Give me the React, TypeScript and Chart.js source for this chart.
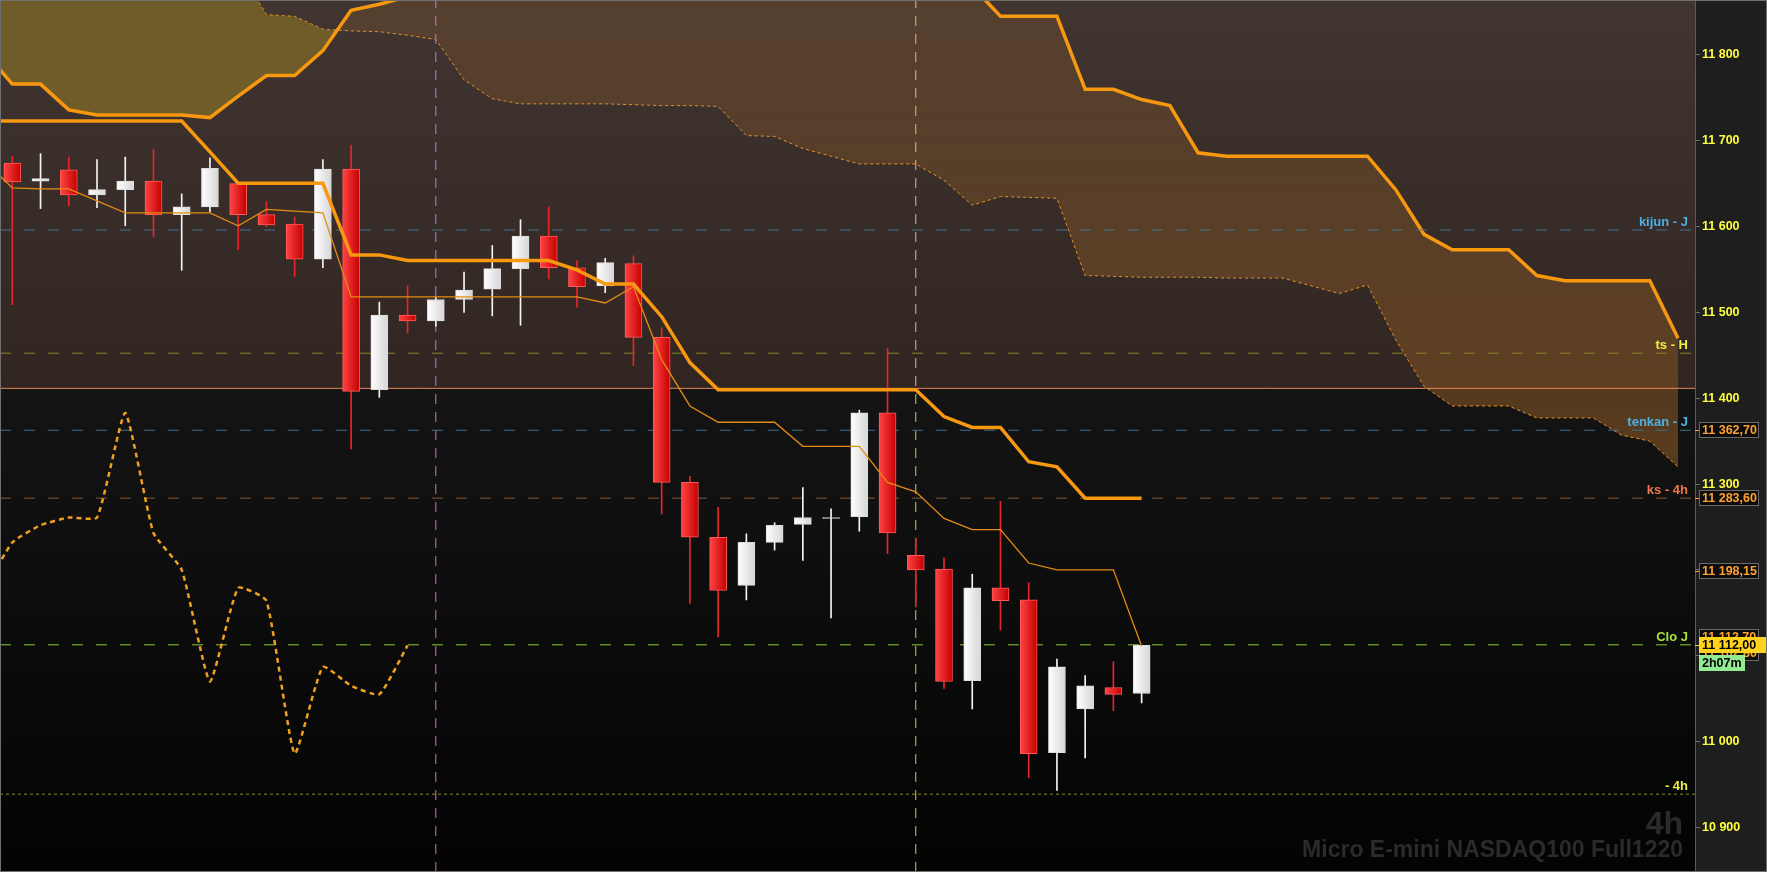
import { useEffect, useRef } from 'react';
import { Chart, registerables } from 'chart.js';

Chart.register(...registerables);

// 4h candles, bar index 0..40
const opens = [11674, 11653, 11666, 11637, 11643, 11653, 11614, 11623, 11650, 11614, 11603, 11562, 11667, 11410, 11497, 11490, 11515, 11527, 11551, 11589, 11552, 11531, 11557, 11471, 11302, 11238, 11182, 11232, 11253, 11260, 11262, 11383, 11217, 11201, 11071, 11179, 11165, 10987, 11038, 11063, 11056];
const highs = [11682, 11685, 11681, 11678, 11681, 11690, 11638, 11680, 11652, 11629, 11611, 11678, 11695, 11512, 11531, 11518, 11547, 11578, 11608, 11623, 11560, 11563, 11566, 11482, 11309, 11273, 11242, 11255, 11296, 11271, 11386, 11458, 11237, 11214, 11195, 11280, 11185, 11096, 11077, 11093, 11112];
const lows = [11509, 11621, 11624, 11622, 11601, 11588, 11549, 11617, 11573, 11600, 11542, 11552, 11341, 11401, 11476, 11484, 11500, 11496, 11485, 11539, 11506, 11523, 11438, 11265, 11161, 11122, 11165, 11223, 11211, 11144, 11245, 11219, 11157, 11062, 11038, 11130, 10958, 10943, 10981, 11036, 11045];
const closes = [11652, 11656, 11637, 11643, 11653, 11614, 11623, 11668, 11614, 11602, 11562, 11667, 11408, 11497, 11490, 11515, 11526, 11551, 11589, 11552, 11530, 11558, 11471, 11302, 11238, 11176, 11232, 11252, 11261, 11261, 11383, 11243, 11200, 11070, 11179, 11164, 10986, 11087, 11065, 11055, 11112];

// ichimoku lines, first value sits at bar -1
const tenkan = [11677, 11645, 11644, 11644, 11630, 11616, 11616, 11616, 11616, 11601, 11620, 11618, 11616, 11518, 11518, 11518, 11518, 11518, 11518, 11518, 11518, 11518, 11511, 11530, 11445, 11391, 11372, 11372, 11372, 11344, 11344, 11344, 11302, 11291, 11260, 11247, 11247, 11208, 11200, 11200, 11200, 11111];
const kijun = [11723, 11723, 11723, 11723, 11723, 11723, 11723, 11723, 11687, 11650.5, 11650.5, 11650.5, 11650.5, 11567, 11567, 11560.5, 11560.5, 11560.5, 11560.5, 11560.5, 11560.5, 11549.5, 11533, 11533, 11495, 11441.5, 11410, 11410, 11410, 11410, 11410, 11410, 11410, 11410, 11378.6, 11366, 11366, 11326, 11320, 11283.6, 11283.6, 11283.6];
const senkouA = [11804, 11766, 11766, 11736, 11730, 11730, 11730, 11730, 11727, 11752, 11776, 11776, 11805, 11852, 11859, 11868, 11878, 11886, 11892, 11895, 11895, 11895, 11895, 11895, 11895, 11895, 11895, 11895, 11895, 11895, 11895, 11895, 11895, 11895, 11895, 11880, 11845, 11845, 11845, 11760, 11760, 11748, 11741, 11686, 11682, 11682, 11682, 11682, 11682, 11682, 11643, 11591, 11573, 11573, 11573, 11543, 11537, 11537, 11537, 11537, 11470];
const senkouB = [11905, 11905, 11905, 11905, 11905, 11905, 11905, 11905, 11905, 11901, 11847, 11845, 11830, 11828, 11827, 11823, 11818, 11771, 11749, 11743, 11743, 11743, 11743, 11742, 11741, 11741, 11740, 11706, 11705, 11691, 11682, 11673, 11673, 11673, 11654, 11625, 11635, 11634, 11633, 11543, 11542, 11541, 11541, 11541, 11540, 11540, 11540, 11531, 11522, 11532, 11468, 11414, 11391, 11391, 11391, 11377, 11377, 11377, 11357, 11350, 11320];
const CHIKOU_SHIFT = 26;

// horizontal levels with their right-side tags
const levelValues = [11596, 11452.5, 11362.7, 11283.6, 11112.7, 10938.7];
const levelLabels = ['kijun - J', 'ts - H', 'tenkan - J', 'ks - 4h', 'Clo J', '- 4h'];
const pivotLevel = 11411.5;
const sessionBreaks = [15, 32];
const axisTags = [11362.7, 11283.6, 11198.15];
const hiddenTags = [11112.7, 11102.8];
const lastPrice = 11112;
const timeLeft = '2h07m';

const X_MIN = -0.436;
const X_MAX = 59.6;
const Y_MIN = 10848;
const Y_MAX = 11864;
const FONT = "'Liberation Sans', Arial, sans-serif";

const levelLine = ['#45708e', '#8c8628', '#3f6f8c', '#8a5836', '#88cc36', '#8f8f30'];
const levelText = ['#4cb0e8', '#f0f040', '#4cb0e8', '#f07848', '#a6e040', '#f0f040'];
const levelDash = [[11, 13], [11, 13], [11, 13], [11, 13], [11, 13], [3, 3]];
const breakColors = ['#d26ed8', '#dcc070'];

const fmt = (v: number, dec: number) => {
  const [a, b] = v.toFixed(dec).split('.');
  const int = a.replace(/\B(?=(\d{3})+(?!\d))/g, ' ');
  return b ? `${int},${b}` : int;
};

const series = (vals: number[], start: number) => vals.map((y, k) => ({ x: k + start, y }));

export default function App() {
  const chartRef = useRef<HTMLCanvasElement | null>(null);

  useEffect(() => {
    if (!chartRef.current) return;
    const ctx = chartRef.current.getContext('2d');
    if (!ctx) return;

    const up = (i: number) => closes[i] >= opens[i];

    // cloud gets denser towards the bottom of the pane
    const cloudUp = ctx.createLinearGradient(0, 0, 0, 872);
    cloudUp.addColorStop(0, 'rgba(118,80,44,0.38)');
    cloudUp.addColorStop(0.5, 'rgba(118,76,34,0.7)');
    cloudUp.addColorStop(1, 'rgba(118,76,34,0.8)');
    const cloudDown = ctx.createLinearGradient(0, 0, 0, 200);
    cloudDown.addColorStop(0, 'rgba(130,108,38,0.7)');
    cloudDown.addColorStop(1, 'rgba(130,108,38,0.76)');

    const bodyFill = (c: any) => {
      const i = c.dataIndex;
      const xs = c.chart.scales?.x;
      if (i === undefined) return '#e41e24';
      const solid = up(i) ? '#f2f2f2' : '#e41e24';
      if (!xs) return solid;
      const px = xs.getPixelForValue(i);
      if (!isFinite(px)) return solid;
      const g = c.chart.ctx.createLinearGradient(px - 8.5, 0, px + 8.5, 0);
      if (up(i)) {
        g.addColorStop(0, '#ffffff');
        g.addColorStop(1, '#d6d6d6');
      } else {
        g.addColorStop(0, '#ff4444');
        g.addColorStop(1, '#c40000');
      }
      return g;
    };

    const bandFill = (c: any) => {
      const { chart } = c;
      const area = chart.chartArea;
      if (!area) return 'rgb(56,45,41)';
      const py = chart.scales.y.getPixelForValue(pivotLevel);
      const g = chart.ctx.createLinearGradient(0, area.top, 0, py);
      g.addColorStop(0, 'rgb(64,53,49)');
      g.addColorStop(1, 'rgb(48,37,33)');
      return g;
    };

    const flat = (y: number) => [{ x: X_MIN, y }, { x: X_MAX, y }];

    const datasets: any[] = [
      {
        type: 'line',
        data: flat(pivotLevel),
        borderWidth: 0,
        fill: 'end',
        backgroundColor: bandFill,
        order: 100,
      },
      {
        type: 'line',
        data: series(senkouA, -1),
        borderColor: '#f7980f',
        borderWidth: 3.5,
        fill: { target: '+1', above: cloudUp, below: cloudDown },
        order: 60,
      },
      {
        type: 'line',
        data: series(senkouB, -1),
        borderColor: 'rgba(238,150,40,0.95)',
        borderWidth: 1,
        borderDash: [3, 3],
        fill: false,
        order: 59,
      },
      {
        type: 'line',
        data: flat(pivotLevel),
        borderColor: '#e8875a',
        borderWidth: 1,
        fill: false,
        order: 50,
      },
      ...levelValues.map((v, k) => ({
        type: 'line',
        data: flat(v),
        borderColor: levelLine[k],
        borderWidth: 1,
        borderDash: levelDash[k],
        fill: false,
        order: 40,
      })),
      ...sessionBreaks.map((b, k) => ({
        type: 'line',
        data: [{ x: b, y: Y_MIN }, { x: b, y: Y_MAX }],
        borderColor: breakColors[k],
        borderWidth: 1,
        borderDash: [10, 8],
        fill: false,
        order: 40,
      })),
      {
        type: 'bar',
        data: opens.map((_, i) => ({ x: i, y: [lows[i], highs[i]] })),
        backgroundColor: opens.map((_, i) => (up(i) ? '#f4f4f4' : '#e8262a')),
        borderWidth: 0,
        barThickness: 1,
        grouped: false,
        order: 30,
      },
      {
        type: 'bar',
        data: opens.map((o, i) => {
          const lo = Math.min(o, closes[i]);
          const hi = Math.max(o, closes[i]);
          return { x: i, y: hi - lo < 1 ? [lo - 0.5, hi + 0.5] : [lo, hi] };
        }),
        backgroundColor: bodyFill,
        borderColor: opens.map((_, i) => (up(i) ? '#dcdcdc' : '#ff5a5a')),
        borderWidth: 1,
        borderSkipped: false,
        barThickness: 17,
        grouped: false,
        order: 29,
      },
      {
        type: 'line',
        data: series(closes.slice(CHIKOU_SHIFT - 1), -1),
        borderColor: '#f0a020',
        borderWidth: 2.5,
        borderDash: [5, 4],
        tension: 0.15,
        fill: false,
        order: 20,
      },
      {
        type: 'line',
        data: series(tenkan, -1),
        borderColor: '#e38c12',
        borderWidth: 1.3,
        fill: false,
        order: 11,
      },
      {
        type: 'line',
        data: series(kijun, -1),
        borderColor: '#f7980f',
        borderWidth: 3.5,
        fill: false,
        order: 10,
      },
    ];

    const decor = {
      id: 'decor',
      beforeDraw(chart: any) {
        const { ctx: c, chartArea: a, width, height } = chart;
        c.save();
        c.fillStyle = '#1e1e1e';
        c.fillRect(0, 0, width, height);
        const g = c.createLinearGradient(0, a.top, 0, a.bottom);
        g.addColorStop(0, '#222222');
        g.addColorStop(1, '#030303');
        c.fillStyle = g;
        c.fillRect(a.left, a.top, a.right - a.left, a.bottom - a.top);
        c.restore();
      },
      beforeDatasetsDraw(chart: any) {
        const { ctx: c, chartArea: a } = chart;
        c.save();
        c.fillStyle = '#2b2b2b';
        c.textAlign = 'right';
        c.textBaseline = 'alphabetic';
        c.font = `bold 32px ${FONT}`;
        c.fillText('4h', a.right - 12, 834);
        c.font = `bold 23px ${FONT}`;
        c.fillText('Micro E-mini NASDAQ100 Full1220', a.right - 12, 857);
        c.restore();
      },
      afterDatasetsDraw(chart: any) {
        const { ctx: c, chartArea: a, scales } = chart;
        c.save();
        c.font = `bold 13px ${FONT}`;
        c.textAlign = 'right';
        c.textBaseline = 'alphabetic';
        levelValues.forEach((v, k) => {
          c.fillStyle = levelText[k];
          c.fillText(levelLabels[k], a.right - 7, scales.y.getPixelForValue(v) - 4);
        });
        c.restore();
      },
      afterDraw(chart: any) {
        const { ctx: c, chartArea: a, scales, width, height } = chart;
        const ys = scales.y;
        const x0 = a.right + 4;
        const tag = (cy: number, text: string, w: number, bg: string, fg: string, border: string | null) => {
          c.fillStyle = bg;
          c.fillRect(x0, cy - 8, w, 16);
          if (border) {
            c.strokeStyle = border;
            c.lineWidth = 1;
            c.strokeRect(x0 + 0.5, cy - 7.5, w - 1, 15);
          }
          c.fillStyle = fg;
          c.fillText(text, x0 + 3, cy + 1);
        };
        c.save();
        c.font = `bold 12.5px ${FONT}`;
        c.textAlign = 'left';
        c.textBaseline = 'middle';
        axisTags.forEach((v) => {
          const cy = Math.round(ys.getPixelForValue(v));
          c.strokeStyle = '#ffa030';
          c.beginPath();
          c.moveTo(a.right, cy + 0.5);
          c.lineTo(x0, cy + 0.5);
          c.stroke();
          tag(cy, fmt(v, 2), 60, '#0c0c0c', '#ffa030', '#6a6a6a');
        });
        const ly = Math.round(ys.getPixelForValue(lastPrice));
        tag(ly - 8, fmt(hiddenTags[0], 2), 60, '#0c0c0c', '#ffa030', '#6a6a6a');
        tag(ly + 8, fmt(hiddenTags[1], 2), 60, '#0c0c0c', '#ffa030', '#6a6a6a');
        c.strokeStyle = '#ffd21e';
        c.beginPath();
        c.moveTo(a.right, ly + 0.5);
        c.lineTo(x0, ly + 0.5);
        c.stroke();
        tag(ly, fmt(lastPrice, 2), width - x0, '#ffd21e', '#000000', null);
        c.fillStyle = '#92ea92';
        c.fillRect(x0, ly + 10, 46, 16);
        c.fillStyle = '#000000';
        c.fillText(timeLeft, x0 + 3, ly + 19);
        c.strokeStyle = '#707070';
        c.lineWidth = 1;
        c.strokeRect(0.5, 0.5, width - 1, height - 1);
        c.restore();
      },
    };

    const chart = new Chart(ctx, {
      type: 'bar',
      data: { datasets },
      options: {
        animation: false,
        responsive: true,
        maintainAspectRatio: false,
        events: [],
        layout: { padding: 0 },
        elements: { point: { radius: 0 }, line: { borderCapStyle: 'butt' } },
        plugins: { legend: { display: false }, tooltip: { enabled: false } },
        scales: {
          x: { type: 'linear', display: false, min: X_MIN, max: X_MAX, offset: false },
          y: {
            position: 'right',
            min: Y_MIN,
            max: Y_MAX,
            afterFit: (s: any) => {
              s.width = 72;
              s.paddingTop = 0;
              s.paddingBottom = 0;
            },
            border: { color: '#5c5c5c' },
            grid: {
              drawOnChartArea: false,
              tickLength: 5,
              tickColor: (c: any) => (c.tick && c.tick.value % 100 === 0 ? '#707070' : 'transparent'),
            },
            ticks: {
              stepSize: 100,
              includeBounds: false,
              autoSkip: false,
              padding: 2,
              color: '#ffff3c',
              font: { family: FONT, weight: 'bold', size: 12.5 },
              callback: (v: any) => (Number(v) % 100 === 0 ? fmt(Number(v), 0) : ''),
            },
          },
        },
      } as any,
      plugins: [decor],
    });

    return () => {
      chart.destroy();
    };
  }, []);

  return (
    <div style={{ position: 'fixed', left: 0, top: 0, width: 1767, height: 872, background: '#1e1e1e' }}>
      <canvas ref={chartRef}></canvas>
    </div>
  );
}
